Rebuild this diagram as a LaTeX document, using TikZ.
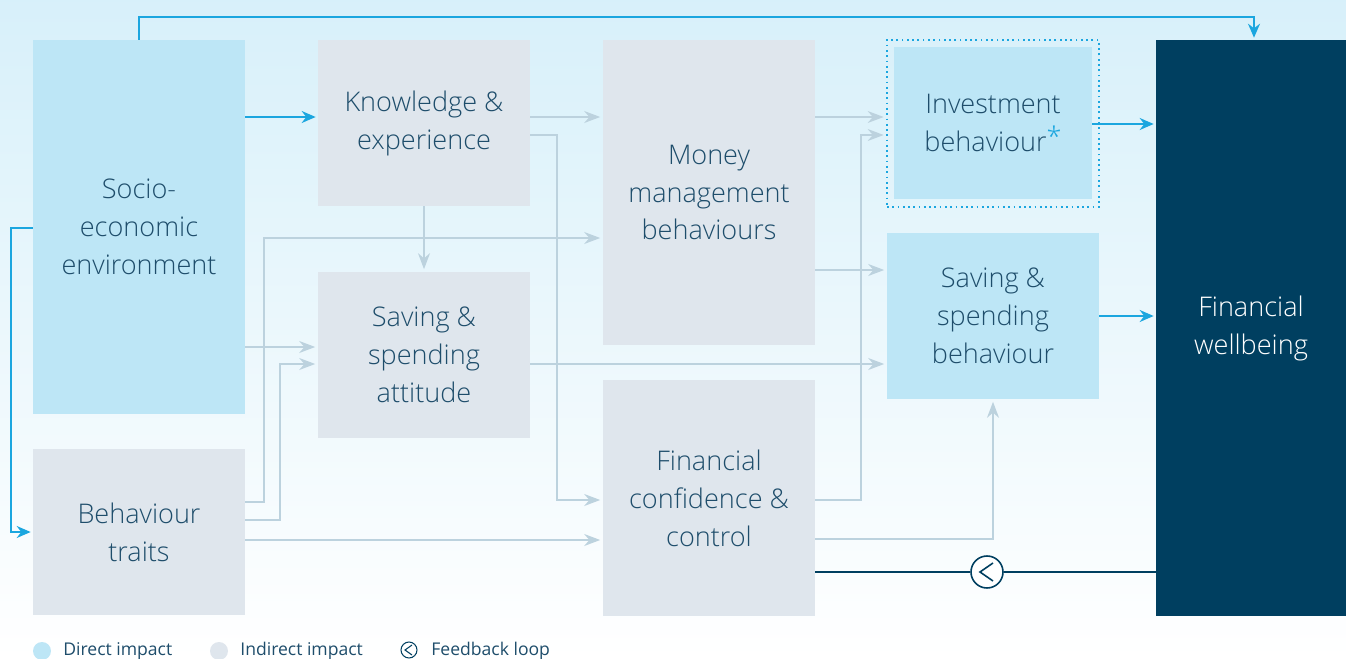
\documentclass[tikz,border=0pt]{standalone}
\usepackage{fontspec}
\setmainfont{Open Sans Light}
\newfontfamily\legendfont{Open Sans}
\usepackage{xcolor}
\usepackage{tikz}
\usetikzlibrary{positioning,arrows.meta}
\definecolor{directFill}{HTML}{BDE6F6}
\definecolor{indirectFill}{HTML}{DFE6ED}
\definecolor{wellbeingFill}{HTML}{003F60}
\definecolor{directLine}{HTML}{1BA6DF}
\definecolor{indirectLine}{HTML}{BCD2DE}
\definecolor{boxText}{HTML}{1E4D6B}
\tikzset{
    box/.style = {
        text = boxText,
        align = center,
        inner sep = 0pt,
        font = \fontsize{15.4}{21.6}\selectfont,
    },
    direct/.style = {box, fill = directFill},
    indirect/.style = {box, fill = indirectFill},
    bluearrow/.style = {
        draw = directLine,
        line width = 1.1pt,
        -{Stealth[length=0.28cm,width=0.24cm]},
        shorten > = 0.04cm,
    },
    greyarrow/.style = {
        draw = indirectLine,
        line width = 0.9pt,
        -{Stealth[length=0.32cm,width=0.24cm]},
        shorten > = 0.05cm,
    },
    loopsign/.style = {
        circle,
        draw = wellbeingFill,
        fill = white,
        line width = 0.9pt,
        inner sep = 0pt,
    },
    legend/.style = {
        anchor = west,
        text = boxText,
        inner sep = 0pt,
        font = \legendfont\fontsize{10}{12}\selectfont,
    }
}

\begin{document}
\begin{tikzpicture}[x=0.02cm,y=-0.02cm]
    \useasboundingbox (0,0) rectangle (1346,659);
    \shade[top color=directFill!60, middle color=directFill!22, bottom color=white] (0,0) rectangle (1346,659);

    \node[direct, minimum width=4.24cm, minimum height=7.48cm] (SE) at (139,227) {Socio-\\economic\\environment};
    \node[indirect, minimum width=4.24cm, minimum height=3.32cm] (BT) at (139,532) {Behaviour\\traits};
    \node[indirect, minimum width=4.24cm, minimum height=3.32cm] (KE) at (424,123) {Knowledge \&\\experience};
    \node[indirect, minimum width=4.24cm, minimum height=3.32cm] (SSA) at (424,355) {Saving \&\\spending\\attitude};
    \node[indirect, minimum width=4.24cm, minimum height=6.1cm] (MM) at (709,192.5) {Money\\management\\behaviours};
    \node[indirect, minimum width=4.24cm, minimum height=4.72cm] (FC) at (709,498) {Financial\\confidence \&\\control};

    \node[draw=directLine, dotted, line width=1pt, minimum width=4.24cm, minimum height=3.34cm] (IBframe) at (993,123.5) {};
    \node[direct, minimum width=3.96cm, minimum height=3.04cm] (IB) at (993,123) {Investment\\behaviour\raisebox{3pt}{\textcolor{directLine}{*}}};
    \node[direct, minimum width=4.24cm, minimum height=3.32cm] (SSB) at (993,316) {Saving \&\\spending\\behaviour};
    \node[box, fill=wellbeingFill, text=white, minimum width=3.8cm, minimum height=11.52cm] (FW) at (1251,328) {Financial\\wellbeing};

    \node[loopsign, minimum size=0.64cm] (Loop) at (987,572) {};

    \draw[bluearrow] (SE.east |- 0,117) -- (KE.west |- 0,117);
    \draw[bluearrow] (SE.north) -- ++(0,-23) -| ([xshift=0.06cm]FW.north);
    \draw[bluearrow] (SE.west |- 0,228) -- (11,228) |- (BT.west);
    \draw[bluearrow] (IB.east |- 0,124) -- (FW.west |- 0,124);
    \draw[bluearrow] (SSB.east) -- (FW.west |- SSB.east);

    \draw[greyarrow] (KE.east |- 0,117) -- (MM.west |- 0,117);
    \draw[greyarrow] (KE.east |- 0,135) -- (557,135) |- (FC.west |- 0,500);
    \draw[greyarrow] (KE.south) -- (SSA.north);
    \draw[greyarrow] (BT.east |- 0,502) -- (264,502) |- (MM.west |- 0,238);
    \draw[greyarrow] (SE.east |- 0,347) -- (SSA.west |- 0,347);
    \draw[greyarrow] (BT.east |- 0,520) -- (280,520) |- (SSA.west |- 0,364);
    \draw[greyarrow] (BT.east |- 0,540) -- (FC.west |- 0,540);
    \draw[greyarrow] (MM.east |- 0,117) -- (IBframe.west |- 0,117);
    \draw[greyarrow] (MM.east |- 0,270) -- (SSB.west |- 0,270);
    \draw[greyarrow] (SSA.east |- 0,364) -- (SSB.west |- 0,364);
    \draw[greyarrow] (FC.east |- 0,500) -- (861,500) |- (IBframe.west |- 0,135);
    \draw[greyarrow] (FC.east |- 0,539) -| (SSB.south);

    \draw[draw=wellbeingFill, line width=1.1pt] (FW.west |- Loop) -- (Loop.east);
    \draw[draw=wellbeingFill, line width=1.1pt] (Loop.west) -- (FC.east |- Loop);
    \draw[draw=wellbeingFill, line width=0.9pt] ([shift={(6,-9)}]Loop.center) -- ++(-13,9) -- ++(13,9);

    \node[circle, fill=directFill, minimum size=0.36cm, inner sep=0pt] (DirectDot) at (42,651) {};
    \node[legend] (DirectText) at (63,651) {Direct impact};
    \node[circle, fill=indirectFill, minimum size=0.36cm, inner sep=0pt] (IndirectDot) at (219,651) {};
    \node[legend] (IndirectText) at (240,651) {Indirect impact};
    \node[loopsign, minimum size=0.32cm, line width=0.6pt] (LoopKey) at (409,650) {};
    \draw[draw=wellbeingFill, line width=0.6pt] ([shift={(3,-5)}]LoopKey.center) -- ++(-7,5) -- ++(7,5);
    \node[legend] (LoopText) at (431,651) {Feedback loop};
\end{tikzpicture}
\end{document}
